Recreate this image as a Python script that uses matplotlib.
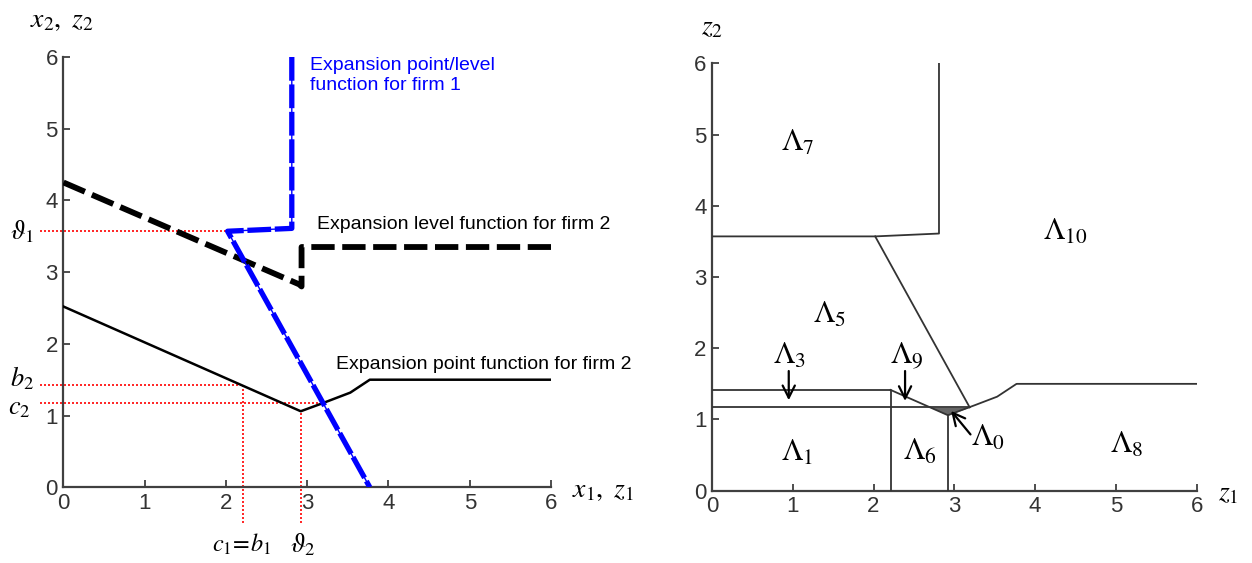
import matplotlib
matplotlib.use('Agg')
import matplotlib.pyplot as plt
import numpy as np

plt.rcParams['font.family'] = ['Liberation Sans', 'DejaVu Sans']
plt.rcParams['mathtext.fontset'] = 'stix'

# firm 1 expansion point/level function (vertical part, kink, downward line)
firm1_x = [2.81, 2.81, 2.02, 3.77]
firm1_y = [6.0, 3.61, 3.57, 0.0]

# firm 2 expansion level function
level2_x = [0.0, 2.90, 2.93, 2.93, 6.0]
level2_y = [4.25, 2.83, 2.80, 3.35, 3.35]

# firm 2 expansion point function
point2_x = [0.0, 2.92, 3.16, 3.53, 3.77, 6.0]
point2_y = [2.52, 1.06, 1.16, 1.32, 1.50, 1.50]

# threshold values
theta1 = 3.57
theta2 = 2.92
b2 = 1.42
c2 = 1.17
c1 = 2.21
z1_cross = 3.19   # where firm 1's line meets the c2 level

# region labels on the right panel: (text, z1, z2)
region_labels = [
    (r'$\Lambda_7$', 1.06, 4.88),
    (r'$\Lambda_{10}$', 4.37, 3.63),
    (r'$\Lambda_5$', 1.46, 2.47),
    (r'$\Lambda_1$', 1.05, 0.53),
    (r'$\Lambda_6$', 2.57, 0.54),
    (r'$\Lambda_8$', 5.13, 0.64),
]
# labels with arrows: (text, label z1, label z2, tip z1, tip z2)
arrow_labels = [
    (r'$\Lambda_3$', 0.96, 1.90, 0.95, 1.27),
    (r'$\Lambda_9$', 2.41, 1.90, 2.39, 1.26),
    (r'$\Lambda_0$', 3.42, 0.74, 2.96, 1.12),
]

axis_col = '#404040'
tick_col = '#333333'


def style_axes(ax):
    ax.set_xlim(0, 6)
    ax.set_ylim(0, 6)
    ax.set_xticks(range(7))
    ax.set_yticks(range(7))
    for side in ['top', 'right']:
        ax.spines[side].set_visible(False)
    for side in ['left', 'bottom']:
        ax.spines[side].set_color(axis_col)
        ax.spines[side].set_linewidth(1.6)
    ax.tick_params(direction='in', length=5, width=1.3, color=axis_col,
                   labelcolor=tick_col, labelsize=16, pad=4)


fig = plt.figure(figsize=(12.52, 5.63), dpi=100)
ax1 = fig.add_axes([0.0507, 0.1345, 0.3894, 0.7643])
ax2 = fig.add_axes([0.5687, 0.1284, 0.3871, 0.7592])
style_axes(ax1)
style_axes(ax2)

# ---- left panel: expansion functions ----
red_kw = dict(color='red', linestyle=(0, (1.2, 1.2)), linewidth=1.2, clip_on=False, zorder=1)
ax1.plot([-0.29, firm1_x[2]], [theta1, theta1], **red_kw)
ax1.plot([-0.29, c1], [b2, b2], **red_kw)
ax1.plot([-0.29, z1_cross], [c2, c2], **red_kw)
ax1.plot([c1, c1], [-0.5, b2], **red_kw)
ax1.plot([theta2, theta2], [-0.5, np.interp(theta2, point2_x, point2_y)], **red_kw)

ax1.plot(point2_x, point2_y, color='black', linewidth=1.8, zorder=3)
ax1.plot(level2_x, level2_y, color='black', linewidth=4.2,
         dashes=(4.0, 1.3), solid_capstyle='butt', zorder=3)
ax1.plot(firm1_x, firm1_y, color='blue', linewidth=1.0, zorder=4)
ax1.plot(firm1_x, firm1_y, color='blue', linewidth=3.8,
         dashes=(4.5, 0.7), zorder=4)

ax1.text(3.04, 5.74, 'Expansion point/level\nfunction for firm 1', color='blue',
         fontsize=14, ha='left', va='center', linespacing=1.25)
ax1.text(3.12, 3.66, 'Expansion level function for firm 2', color='black',
         fontsize=14, ha='left', va='center')
ax1.text(3.36, 1.71, 'Expansion point function for firm 2', color='black',
         fontsize=14, ha='left', va='center')

lab_kw = dict(fontsize=19, ha='center', va='center', clip_on=False)
ax1.text(-0.51, theta1, r'$\vartheta_1$', **lab_kw)
ax1.text(-0.51, 1.52, r'$b_2$', **lab_kw)
ax1.text(-0.55, 1.10, r'$c_2$', **lab_kw)
ax1.text(c1 - 0.02, -0.80, r'$c_1\!=\!b_1$', fontsize=17.5, ha='center', va='center',
         clip_on=False)
ax1.text(theta2 + 0.03, -0.80, r'$\vartheta_2$', **lab_kw)

fig.text(62 / 1252, 1 - 20 / 563, r'$x_2,\ z_2$', fontsize=20, ha='center', va='center')
fig.text(603 / 1252, 1 - 490 / 563, r'$x_1,\ z_1$', fontsize=20, ha='center', va='center')

# ---- right panel: regions in the (z1, z2) plane ----
line_kw = dict(color='#333333', linewidth=1.3, zorder=3)
ax2.plot([0, firm1_x[2], firm1_x[1], firm1_x[0]],
         [theta1, firm1_y[2], firm1_y[1], firm1_y[0]], **line_kw)
ax2.plot([firm1_x[2], z1_cross], [firm1_y[2], c2], **line_kw)
zz = np.linspace(c1, 6, 400)
curve = np.interp(zz, point2_x, point2_y)
ax2.plot(zz, curve, **line_kw)
ax2.plot([0, c1, c1], [b2, b2, 0], **line_kw)
ax2.plot([0, z1_cross], [c2, c2], **line_kw)
ax2.plot([theta2, theta2], [0, np.interp(theta2, point2_x, point2_y)], **line_kw)
ax2.fill_between(zz, curve, c2, where=curve < c2, color='#666666', linewidth=0, zorder=2)

for txt, x, y in region_labels:
    ax2.text(x, y, txt, fontsize=22, ha='center', va='center')
for txt, x, y, tx, ty in arrow_labels:
    if txt == r'$\Lambda_0$':
        start = (x - 0.22, y + 0.05)
    else:
        start = (tx, y - 0.22)
    ax2.annotate('', xy=(tx, ty), xytext=start,
                 arrowprops=dict(arrowstyle='->', color='black', lw=1.6,
                                 mutation_scale=22, shrinkA=0, shrinkB=0))
    ax2.text(x, y, txt, fontsize=22, ha='center', va='center')

fig.text(712 / 1252, 1 - 27 / 563, r'$z_2$', fontsize=20, ha='center', va='center')
fig.text(1228 / 1252, 1 - 493 / 563, r'$z_1$', fontsize=20, ha='center', va='center')

fig.savefig('out.png', dpi=100)
